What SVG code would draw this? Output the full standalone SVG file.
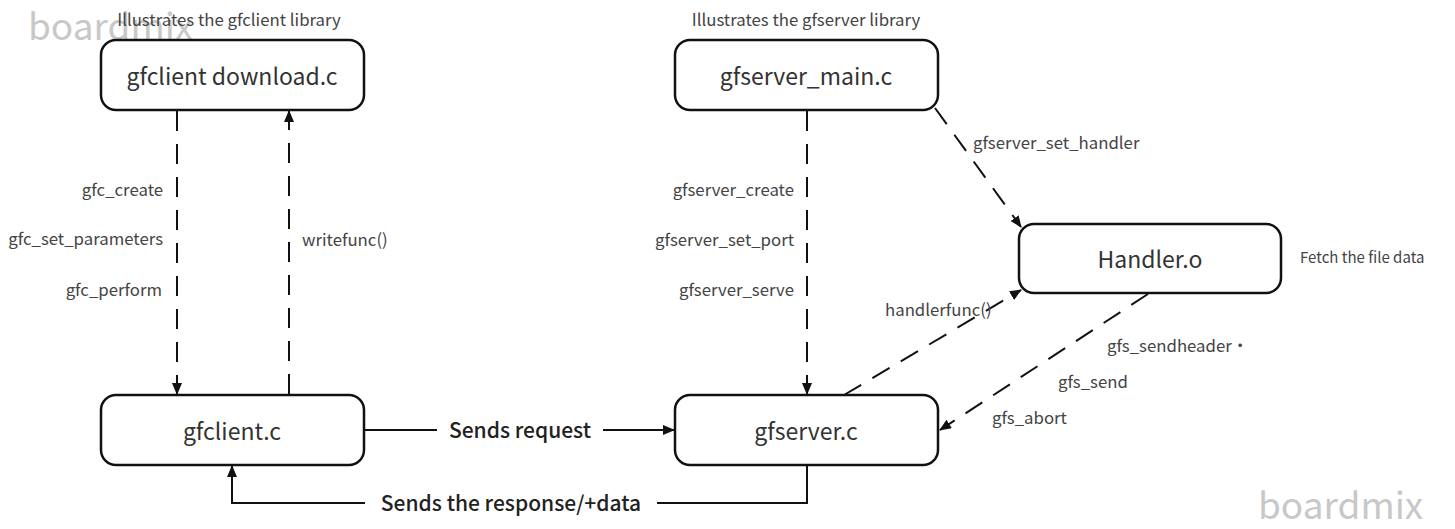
<svg xmlns="http://www.w3.org/2000/svg" width="1455" height="529" viewBox="0 0 1455 529">
<style>
.node rect{fill:#fff;stroke:#111;stroke-width:2.5}
.nt{font-family:"Noto Sans CJK SC","Noto Sans",sans-serif;font-size:23px;fill:#333;text-anchor:middle;dominant-baseline:central}
.lb{font-family:"Noto Sans CJK SC","Noto Sans",sans-serif;font-size:16.8px;fill:#444}
.bl{font-family:"Noto Sans CJK SC","Noto Sans",sans-serif;font-size:21px;font-weight:500;fill:#222}
.wm{font-family:"Noto Sans CJK SC","Noto Sans",sans-serif;font-size:37px;fill:#c8c8c8}
.d{fill:none;stroke:#111;stroke-width:2;stroke-dasharray:20 13}
.s{fill:none;stroke:#111;stroke-width:2}
</style>
<defs>
<marker id="ah" viewBox="0 0 12 10" refX="11" refY="5" markerWidth="12" markerHeight="10" markerUnits="userSpaceOnUse" orient="auto">
<path d="M0,0 L12,5 L0,10 Z" fill="#111"/>
</marker>
</defs>
<rect width="1455" height="529" fill="#fff"/>
<text class="wm" x="28" y="40">boardmix</text>
<text class="wm" x="1258" y="519">boardmix</text>
<text class="lb" x="229" y="26" text-anchor="middle">Illustrates the gfclient library</text>
<text class="lb" x="806" y="26" text-anchor="middle">Illustrates the gfserver library</text>
<g id="connectors">
<path class="d" d="M177,111 V394" marker-end="url(#ah)"/>
<path class="d" d="M289,394 V111" marker-end="url(#ah)"/>
<path class="d" d="M807,111 V394" marker-end="url(#ah)"/>
<path class="d" d="M935,108 L1021,227" marker-end="url(#ah)"/>
<path class="d" d="M844,395 L1021,290" marker-end="url(#ah)"/>
<path class="d" d="M1148,294 L940,430" marker-end="url(#ah)"/>
<path class="s" d="M365,430 H437"/>
<path class="s" d="M603,430 H674" marker-end="url(#ah)"/>
<path class="s" d="M807,466 V503 H657"/>
<path class="s" d="M365,503 H232 V466" marker-end="url(#ah)"/>
<text class="bl" x="520" y="438" text-anchor="middle">Sends request</text>
<text class="bl" x="511" y="511" text-anchor="middle">Sends the response/+data</text>
<text class="lb" x="163" y="196" text-anchor="end">gfc_create</text>
<text class="lb" x="163" y="245" text-anchor="end">gfc_set_parameters</text>
<text class="lb" x="162" y="296" text-anchor="end">gfc_perform</text>
<text class="lb" x="302" y="246">writefunc()</text>
<text class="lb" x="794" y="196" text-anchor="end">gfserver_create</text>
<text class="lb" x="794" y="246" text-anchor="end">gfserver_set_port</text>
<text class="lb" x="794" y="296" text-anchor="end">gfserver_serve</text>
<text class="lb" x="973" y="149">gfserver_set_handler</text>
<text class="lb" x="885" y="316">handlerfunc()</text>
<text class="lb" x="1107" y="352">gfs_sendheader·</text>
<text class="lb" x="1058" y="388">gfs_send</text>
<text class="lb" x="992" y="424">gfs_abort</text>
<text class="lb" x="1300" y="263" style="font-size:15px">Fetch the file data</text>
</g>
<g id="n-download" class="node"><rect x="101" y="40" width="263" height="70" rx="15"/><text class="nt" x="232" y="75">gfclient download.c</text></g>
<g id="n-servermain" class="node"><rect x="675" y="40" width="263" height="70" rx="15"/><text class="nt" x="806" y="75">gfserver_main.c</text></g>
<g id="n-handler" class="node"><rect x="1019" y="224" width="262" height="69" rx="15"/><text class="nt" x="1150" y="258">Handler.o</text></g>
<g id="n-client" class="node"><rect x="101" y="395" width="263" height="70" rx="15"/><text class="nt" x="232" y="430">gfclient.c</text></g>
<g id="n-server" class="node"><rect x="675" y="395" width="263" height="70" rx="15"/><text class="nt" x="806" y="430">gfserver.c</text></g>
</svg>
